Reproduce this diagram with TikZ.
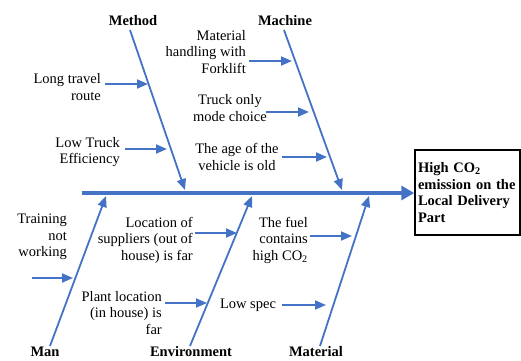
\documentclass[tikz,border=0pt]{standalone}
\usepackage{fontspec}
\setmainfont{Liberation Serif}
\newfontfamily\timesf{Liberation Serif}
\usetikzlibrary{arrows.meta}
\definecolor{bone}{HTML}{4472C4}
\begin{document}
\begin{tikzpicture}[x=1pt,y=-1pt,
  bonel/.style={draw=bone, line width=1.8pt, -{Triangle[length=11pt,width=9pt]}},
  subl/.style={draw=bone, line width=1.8pt, -{Triangle[length=11pt,width=9pt]}},
  spinel/.style={draw=bone, line width=4pt, -{Triangle[length=13pt,width=14pt]}},
  lbl/.style={font=\timesf\fontsize{14.5}{16.5}\selectfont, inner sep=0pt, align=right, anchor=east},
  lblc/.style={font=\timesf\fontsize{14.5}{16.5}\selectfont, inner sep=0pt, align=center},
  cat/.style={font=\timesf\fontsize{14.5}{16}\selectfont\bfseries, inner sep=0pt, outer sep=3pt},
  effect/.style={draw, line width=1.5pt, minimum width=105pt, minimum height=85pt, text width=99pt, align=left, inner sep=0pt, font=\timesf\fontsize{14.5}{16.8}\selectfont\bfseries},
]
\useasboundingbox (0,0) rectangle (521,360);

% effect box and spine
\node[effect] (box) at (467.5,192.5) {High CO\textsubscript{2}\\emission on the\\Local Delivery\\Part};
\coordinate (sp) at (82,193);
\draw[spinel] (sp) -- (box.west |- sp);

% categories
\node[cat] (method) at (133,21) {Method};
\node[cat] (machine) at (285,21) {Machine};
\node[cat] (man) at (45,352) {Man};
\node[cat] (env) at (191,352) {Environment};
\node[cat] (mat) at (316,352) {Material};

\coordinate (methodE) at (185,190);
\coordinate (machineE) at (342,190);
\coordinate (manE) at (106,196);
\coordinate (envE) at (252,196);
\coordinate (matE) at (369,196);
\coordinate (methodS) at (130,30);
\coordinate (machineS) at (284,30);
\coordinate (manS) at (50,346);
\coordinate (envS) at (190,346);
\coordinate (matS) at (320,346);

\draw[bonel] (methodS) -- (methodE);
\draw[bonel] (machineS) -- (machineE);
\draw[bonel] (manS) -- (manE);
\draw[bonel] (envS) -- (envE);
\draw[bonel] (matS) -- (matE);

% causes
\node[lbl] (c1) at (101,87) {Long travel\\route};
\node[lbl] (c2) at (120,152) {Low Truck\\Efficiency};
\node[lbl] (c3) at (246,52) {Material\\handling with\\Forklift};
\node[lblc] (c4) at (230,108) {Truck only\\mode choice};
\node[lblc] (c5) at (237,157) {The age of the\\vehicle is old};
\node[lbl] (c6) at (67,237) {Training\\not\\working};
\node[lbl] (c7) at (193,240) {Location of\\suppliers (out of\\house) is far};
\node[lbl] (c8) at (162,313) {Plant location\\(in house) is\\far};
\node[lbl] (c9) at (308,240) {The fuel\\contains\\high CO\textsubscript{2}};
\node[lblc] (c10) at (248,305) {Low spec};

\coordinate (a1s) at (105,84);  \coordinate (a1e) at (148,84);
\coordinate (a2s) at (125,149); \coordinate (a2e) at (167,149);
\coordinate (a3s) at (249,61);  \coordinate (a3e) at (292,61);
\coordinate (a4s) at (266,112); \coordinate (a4e) at (309,112);
\coordinate (a5s) at (282,157); \coordinate (a5e) at (327,157);
\coordinate (a6s) at (32,278);  \coordinate (a6e) at (73,278);
\coordinate (a7s) at (195,233); \coordinate (a7e) at (237,233);
\coordinate (a8s) at (165,303); \coordinate (a8e) at (207,303);
\coordinate (a9s) at (310,236); \coordinate (a9e) at (352,236);
\coordinate (a10s) at (282,305); \coordinate (a10e) at (326,305);

\foreach \i in {1,...,10} \draw[subl] (a\i s) -- (a\i e);
\end{tikzpicture}
\end{document}
